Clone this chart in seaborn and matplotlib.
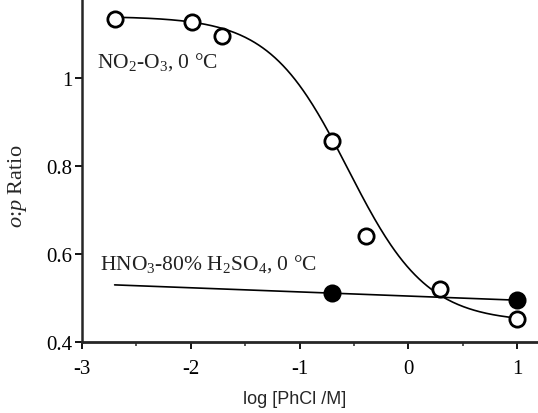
import numpy as np
import pandas as pd
import seaborn as sns
import matplotlib.pyplot as plt
from matplotlib.ticker import FormatStrFormatter, MultipleLocator

# data
log_phcl_open = [-2.70, -1.99, -1.71, -0.70, -0.39, 0.29, 1.00]
ratio_open = [1.134, 1.127, 1.095, 0.857, 0.641, 0.520, 0.452]   # NO2-O3
log_phcl_filled = [-0.70, 1.00]
ratio_filled = [0.511, 0.495]                                    # HNO3-80% H2SO4

# sigmoid fit parameters for the NO2-O3 curve
fit_top = 1.14
fit_bottom = 0.445
fit_x0 = -0.555
fit_hill = 1.2

sns.set_theme(style="ticks")
plt.rcParams['font.family'] = ['Liberation Serif', 'DejaVu Serif']
plt.rcParams['mathtext.fontset'] = 'custom'
plt.rcParams['mathtext.rm'] = 'Liberation Serif'
plt.rcParams['mathtext.it'] = 'Liberation Serif:italic'
plt.rcParams['mathtext.default'] = 'rm'
plt.rcParams['axes.unicode_minus'] = False

fig = plt.figure(figsize=(5.38, 4.14), dpi=100)
ax = fig.add_axes([0.1524, 0.1715, 0.8476, 0.8502])

# fitted curves
xs = np.linspace(min(log_phcl_open), max(log_phcl_open), 300)
ys = fit_bottom + (fit_top - fit_bottom) / (1 + 10 ** (fit_hill * (xs - fit_x0)))
sns.lineplot(x=xs, y=ys, color='black', lw=1.2, ax=ax)

slope, icpt = np.polyfit(log_phcl_filled, ratio_filled, 1)
xl = np.array([min(log_phcl_open), max(log_phcl_filled)])
sns.lineplot(x=xl, y=slope * xl + icpt, color='black', lw=1.2, ax=ax)

# points
ax.plot(log_phcl_open, ratio_open, 'o', ms=11, mfc='white', mec='black', mew=2.0, zorder=3)
ax.plot(log_phcl_filled, ratio_filled, 'o', ms=11, mfc='black', mec='black', mew=2.0, zorder=3)

ax.set_xlim(-3, 1.19)
ax.set_ylim(0.4, 1.2)
ax.xaxis.set_major_locator(MultipleLocator(1))
ax.xaxis.set_minor_locator(MultipleLocator(0.5))
ax.yaxis.set_major_locator(MultipleLocator(0.2))
ax.xaxis.set_major_formatter(FormatStrFormatter('%g'))
ax.yaxis.set_major_formatter(FormatStrFormatter('%g'))

for s in ['top', 'right']:
    ax.spines[s].set_visible(False)
ax.spines['left'].set_linewidth(1.8)
ax.spines['bottom'].set_linewidth(2.0)
ax.tick_params(axis='both', which='major', direction='out', length=5, width=1.3,
               labelsize=15, colors='black', pad=2)
ax.tick_params(axis='x', which='major', pad=7)
ax.tick_params(axis='x', which='minor', direction='out', length=3, width=1.1)

ax.text(-2.862, 1.025, 'NO$_2$-O$_3$, 0 °C', fontsize=15.5, va='baseline', ha='left', color='#222222')
ax.text(-2.835, 0.568, 'HNO$_3$-80% H$_2$SO$_4$, 0 °C', fontsize=15.5, va='baseline', ha='left', color='#222222')

ax.set_xlabel('log [PhCl /M]', fontsize=13, family=['Liberation Sans'])
ax.set_ylabel(r'$\mathit{o}$:$\mathit{p}$ Ratio', fontsize=16)
ax.xaxis.set_label_coords(0.467, -0.137)
ax.yaxis.set_label_coords(-0.116, 0.446)

fig.savefig('out.png', dpi=100)
